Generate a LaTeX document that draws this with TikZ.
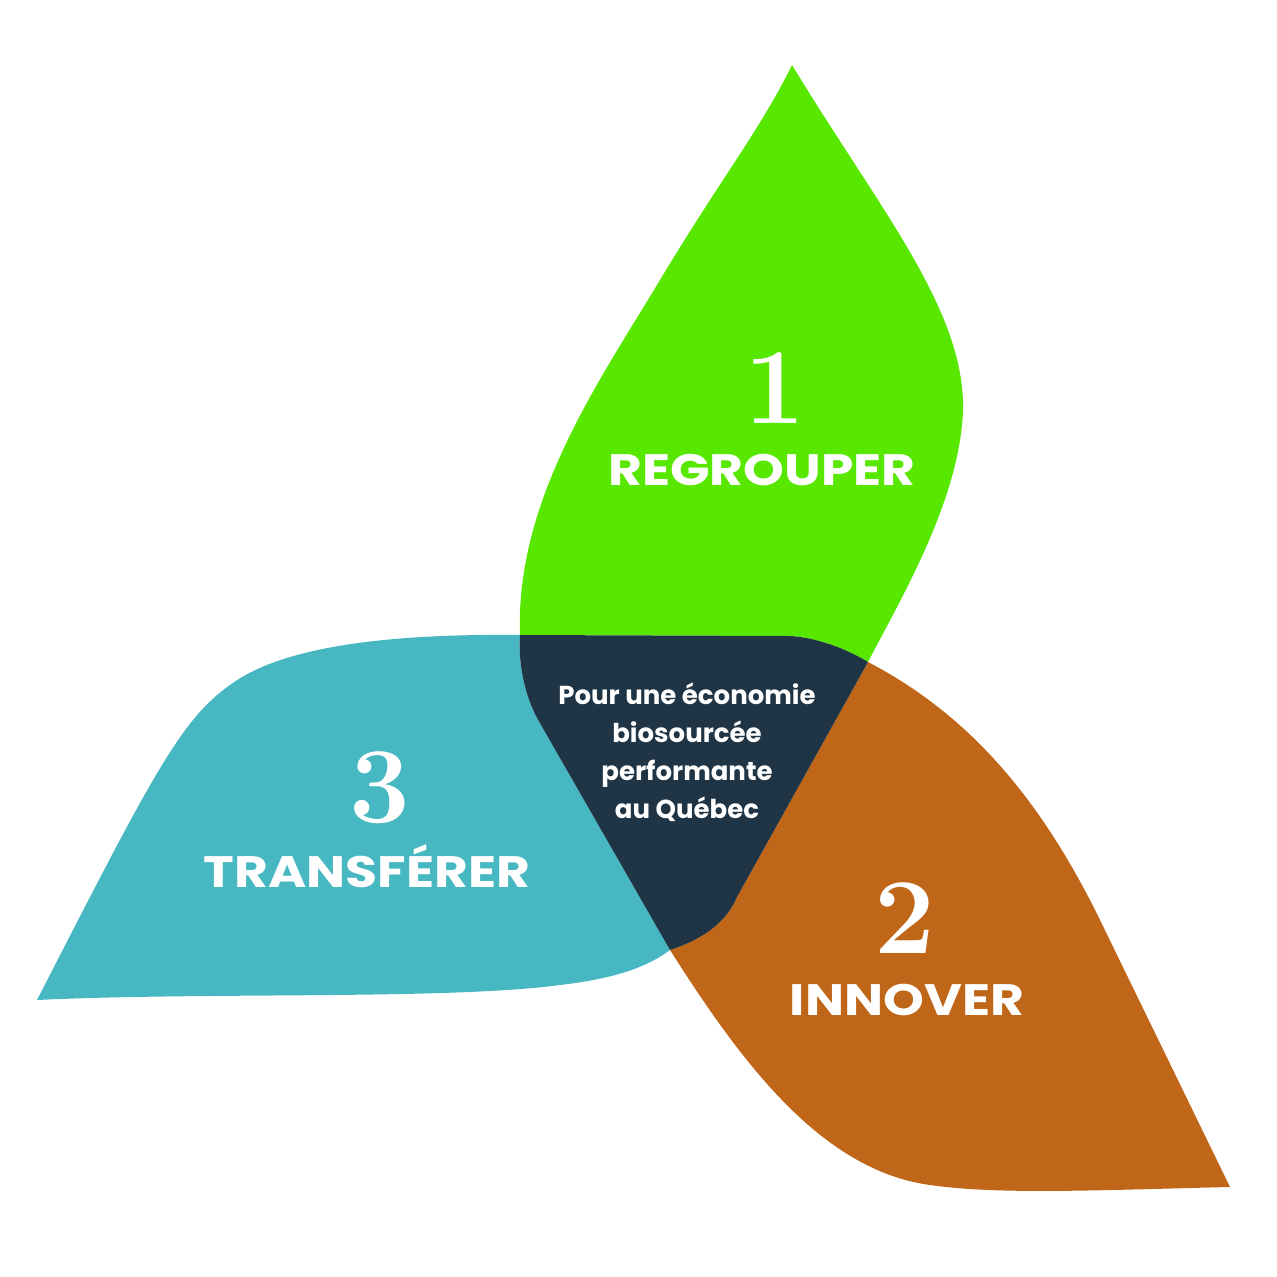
\documentclass[tikz,border=0pt]{standalone}
\usepackage{fontspec}
\setmainfont{Poppins}
\newfontfamily\numfont{Latin Modern Roman}
\definecolor{cgreen}{HTML}{58E800}
\definecolor{corange}{HTML}{BF6619}
\definecolor{cteal}{HTML}{47B7C2}
\definecolor{cdark}{HTML}{1F3444}
\begin{document}
\begin{tikzpicture}[x=1pt,y=-1pt,
  lbl/.style={text=white,xscale=1.18,font=\fontsize{44}{50}\selectfont\bfseries},
  num/.style={text=white,font=\fontsize{108}{108}\selectfont\numfont\bfseries},
  ctr/.style={text=white,align=center,font=\fontsize{26}{38}\selectfont\bfseries}]
\useasboundingbox (0,0) rectangle (1277,1277);
\fill[cgreen] (792,65) .. controls (880,210) and (965,310) .. (963,410) .. controls (960,500) and (900,600) .. (868,662) .. controls (840,645) and (810,637) .. (790,636) -- (520,635) .. controls (515,500) and (600,380) .. (660,280) .. controls (720,180) and (760,130) .. (792,65) -- cycle;
\fill[corange] (868,662) .. controls (960,710) and (1035,787) .. (1100,920) -- (1230,1187) .. controls (1100,1190) and (1000,1195) .. (930,1185) .. controls (820,1170) and (740,1060) .. (670,950) .. controls (700,940) and (725,925) .. (737,897) -- cycle;
\fill[cteal] (520,635) .. controls (420,634) and (290,640) .. (230,685) .. controls (180,720) and (150,780) .. (37,1000) .. controls (200,992) and (450,1000) .. (560,985) .. controls (620,978) and (650,965) .. (670,950) -- (537,718) .. controls (525,695) and (518,665) .. (520,635) -- cycle;
\fill[cdark] (520,635) -- (790,636) .. controls (810,637) and (840,645) .. (868,662) -- (737,897) .. controls (725,925) and (700,940) .. (670,950) -- (537,718) .. controls (525,695) and (518,665) .. (520,635) -- cycle;
\node[num] (n1) at (775,388) {1};
\node[lbl] (l1) at (762,470) {REGROUPER};
\node[num] (n2) at (905,918) {2};
\node[lbl] (l2) at (907,1000) {INNOVER};
\node[num] (n3) at (380,788) {3};
\node[lbl] (l3) at (367,866) {TRANSFÉRER};
\node[ctr] (c) at (687,752) {Pour une économie\\biosourcée\\performante\\au Québec};
\end{tikzpicture}
\end{document}
